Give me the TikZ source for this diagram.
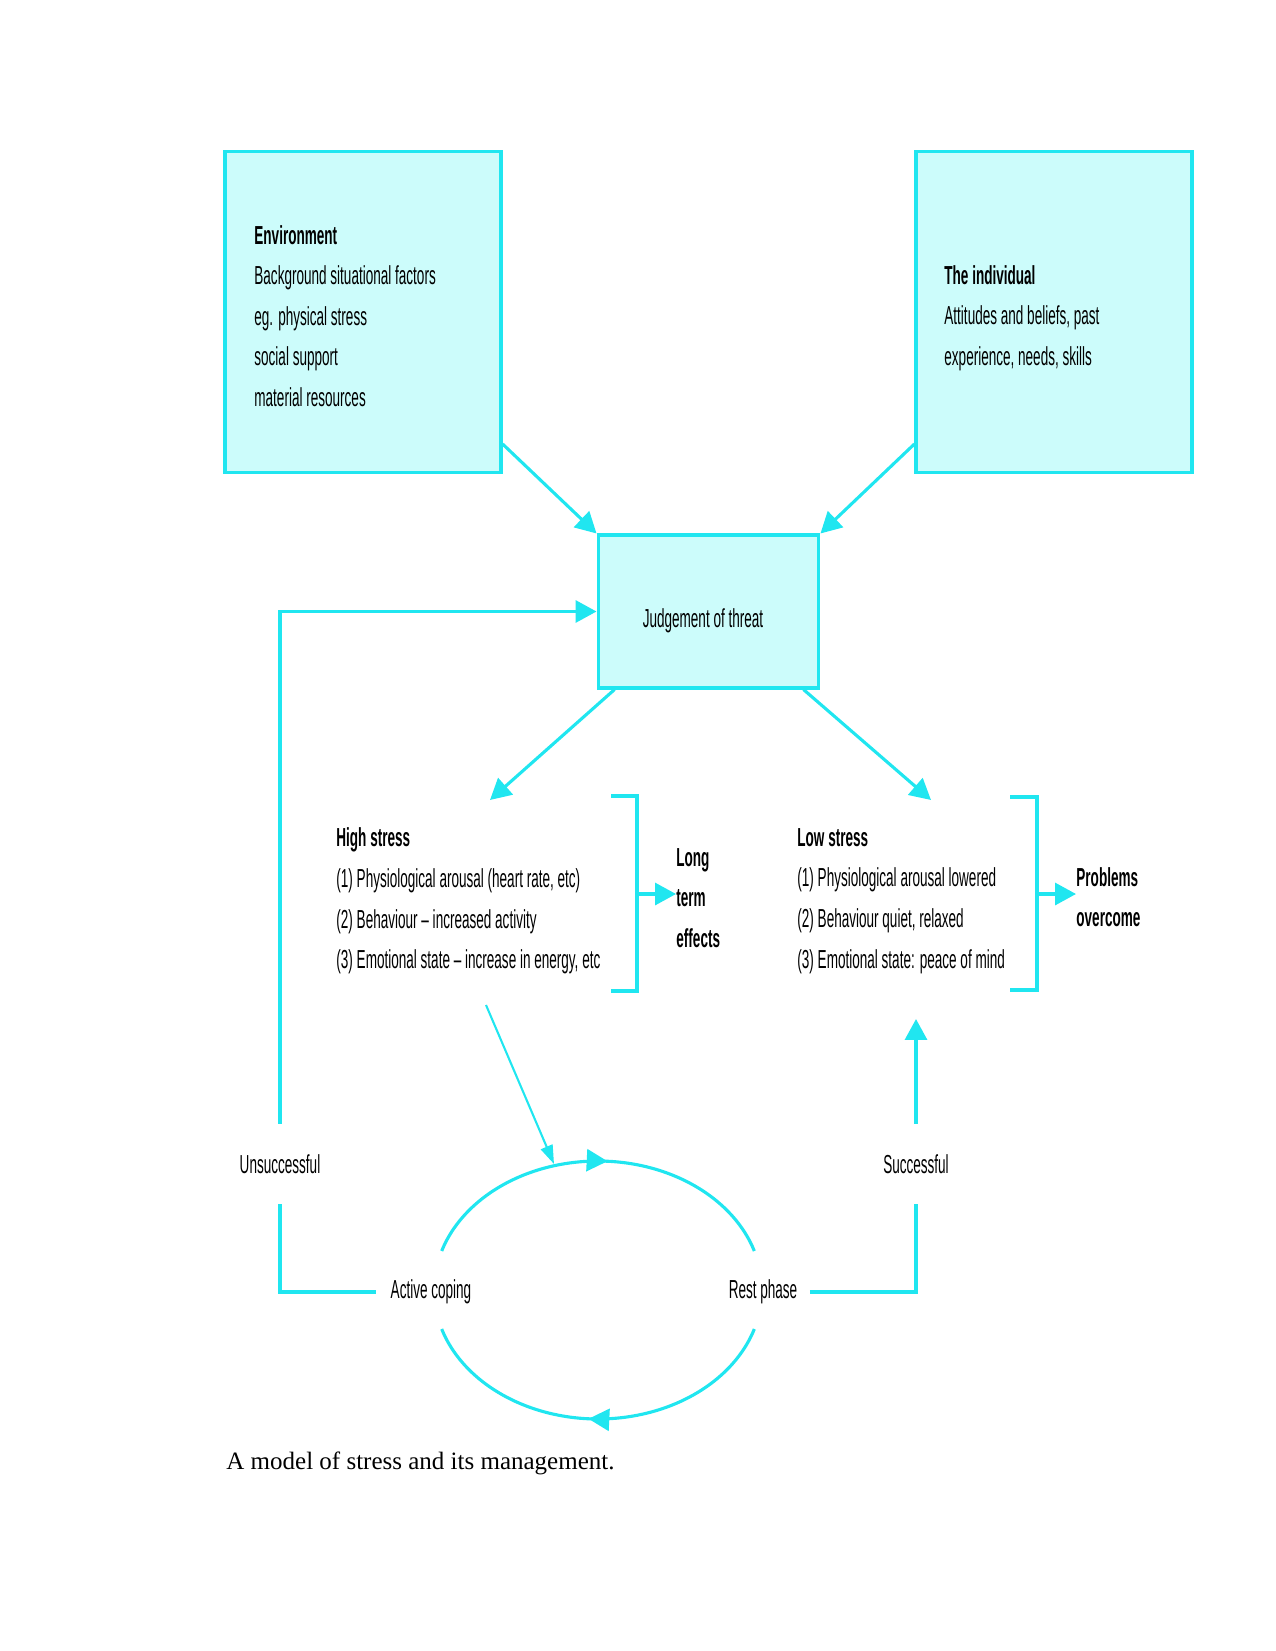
\documentclass[tikz,border=0pt]{standalone}
\usepackage{fontspec}
\setmainfont{Liberation Serif}
\newfontfamily\diagfont[FakeStretch=0.52]{Liberation Sans}
\usetikzlibrary{arrows.meta,decorations.markings,calc}
\definecolor{cyanline}{HTML}{20E6F0}
\definecolor{cyanfill}{HTML}{CCFCFB}
\begin{document}
\begin{tikzpicture}[x=0.48pt,y=-0.48pt,
  font=\diagfont\fontsize{12.5}{19.5}\selectfont,
  bigbox/.style={draw=cyanline, fill=cyanfill, line width=1.5pt,
    minimum width=132.5pt, minimum height=154pt, inner sep=0pt},
  judgebox/.style={draw=cyanline, fill=cyanfill, line width=1.5pt,
    minimum width=106pt, minimum height=73.4pt, inner sep=0pt},
  conn/.style={draw=cyanline, color=cyanline, line width=1.5pt},
  arr/.style={conn, -{Triangle[length=10pt,width=10.5pt]}},
  thinarr/.style={draw=cyanline, color=cyanline, line width=1pt, -{Triangle[length=9pt,width=6pt]}},
  txt/.style={inner sep=0pt, align=left, anchor=west},
  boldtxt/.style={txt, font=\diagfont\bfseries\fontsize{12.5}{19.5}\selectfont},
  lbl/.style={inner ysep=0pt, minimum height=38.4pt},
  cyc/.style={inner ysep=0pt}]

\useasboundingbox (0,0) rectangle (1275,1651);

% top boxes
\node[bigbox] (env) at (363,312) {};
\node[txt] (envtxt) at (254,316) {\textbf{Environment}\\Background situational factors\\eg. physical stress\\social support\\material resources};
\node[bigbox] (ind) at (1054,312) {};
\node[txt] (indtxt) at (944,318) {\textbf{The individual}\\Attitudes and beliefs, past\\experience, needs, skills};
\node[judgebox] (judge) at (708.5,611.5) {};
\node[inner sep=0pt] (judgetxt) at (703,621) {Judgement of threat};

\draw[arr] ($(env.south east)+(0,-30)$) -- (judge.north west);
\draw[arr] ($(ind.south west)+(0,-30)$) -- (judge.north east);

% stress blocks
\node[txt] (high) at (336,901) {\textbf{High stress}\\(1) Physiological arousal (heart rate, etc)\\(2) Behaviour – increased activity\\(3) Emotional state – increase in energy, etc};
\node[boldtxt] (lte) at (676,898) {Long\\term\\effects};
\node[txt] (low) at (797,901) {\textbf{Low stress}\\(1) Physiological arousal lowered\\(2) Behaviour quiet, relaxed\\(3) Emotional state: peace of mind};
\node[boldtxt] (prob) at (1076,897) {Problems\\overcome};

\coordinate (hsTip) at (490,800);
\coordinate (lsTip) at (931,800);
\draw[arr] ($(judge.south west)+(18,0)$) -- (hsTip);
\draw[arr] ($(judge.south east)+(-17,0)$) -- (lsTip);

% brackets
\coordinate (bh) at (637,894);
\coordinate (bl) at (1037,894);
\draw[conn] (611,796) -- (637,796) -- (637,991) -- (611,991);
\draw[conn] (1010,797) -- (1037,797) -- (1037,990) -- (1010,990);
\draw[arr] (bh) -- (bh -| lte.west);
\draw[arr] (bl) -- (bl -| prob.west);

% cycle
\node[lbl] (uns) at (280,1164) {Unsuccessful};
\node[lbl] (suc) at (916,1164) {Successful};
\node[cyc, inner xsep=6.7pt] (act) at (431,1292) {Active coping};
\node[cyc, inner xsep=5.8pt] (rest) at (763,1292) {Rest phase};

\draw[arr] (uns.north) |- (judge.west);
\draw[conn] (uns.south) |- (act.west);
\draw[conn] (rest.east) -| (suc.south);
\coordinate (lsUp) at (916,1019);
\draw[arr] (suc.north) -- (lsUp);

\draw[conn, postaction={decorate}, decoration={markings, mark=at position 0.525 with {\arrow{Triangle[length=10pt,width=10.5pt]}}}]
  plot[domain=162.4:17.6, samples=80, variable=\t] ({598+164*cos(\t)},{1290-129*sin(\t)});
\draw[conn, postaction={decorate}, decoration={markings, mark=at position 0.525 with {\arrow{Triangle[length=10pt,width=10.5pt]}}}]
  plot[domain=17.6:162.4, samples=80, variable=\t] ({598+164*cos(\t)},{1290+129*sin(\t)});

\coordinate (hsOut) at (486,1005);
\coordinate (cycIn) at (554,1164);
\draw[thinarr] (hsOut) -- (cycIn);

% caption
\node[anchor=base west, inner sep=0pt, font=\rmfamily\fontsize{12}{14.4}\selectfont] (cap) at (226,1469) {A model of stress and its management.};
\end{tikzpicture}
\end{document}
